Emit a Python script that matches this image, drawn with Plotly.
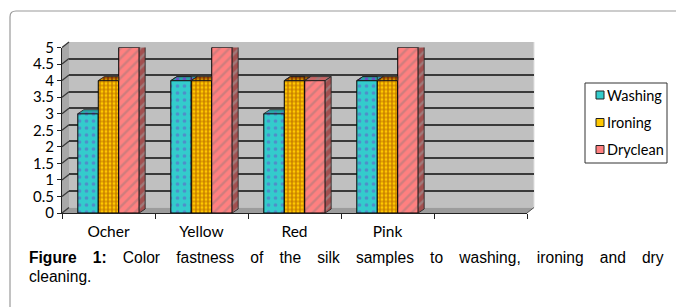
import plotly.graph_objects as go

# ---------------- data ----------------
categories = ["Ocher", "Yellow", "Red", "Pink"]
slot_labels = ["Ocher", "Yellow", "Red", "Pink", ""]
series_names = ["Washing", "Ironing", "Dryclean"]
washing = [3, 4, 3, 4]
ironing = [4, 4, 4, 4]
dryclean = [5, 5, 4, 5]
y_tick_values = [0, 0.5, 1, 1.5, 2, 2.5, 3, 3.5, 4, 4.5, 5]
y_tick_labels = ["0", "0.5", "1", "1.5", "2", "2.5", "3", "3.5", "4", "4.5", "5"]
caption_title = "Figure 1:"
caption_line1 = ["Color", "fastness", "of", "the", "silk", "samples", "to",
                 "washing,", "ironing", "and", "dry"]
caption_line2 = "cleaning."

series_values = [washing, ironing, dryclean]

# ---------------- layout geometry (pixels of the 684x307 view) ----------------
VIEW_W, VIEW_H = 684, 307
PAGE_MARGIN = 8                      # default body margin of the html page
W, H = VIEW_W - PAGE_MARGIN, VIEW_H - PAGE_MARGIN


def px(x):
    return (x - PAGE_MARGIN) / W


def py(y):
    return 1 - (y - PAGE_MARGIN) / H


FX0, FX1, FY0, FY1 = 62, 527, 213, 47.5      # front frame of the 3D box
DXP, DYP = 7, 5.5                            # depth offset of the back wall
BX0, BX1, BY0, BY1 = FX0 + DXP, FX1 + DXP, FY0 - DYP, FY1 - DYP
n_slots = len(slot_labels)
y_max = 5

styles = [
    dict(front="#33CCCC", top="#2AA5A5", side="#1E8080", shape=".", fg="#6A50C8", size=7, sol=0.22),
    dict(front="#FFC800", top="#C48F00", side="#9A6E00", shape="+", fg="#7E1E00", size=4, sol=0.5),
    dict(front="#FF8080", top="#C86464", side="#A24F4F", shape="/", fg="#A07A7A", size=7, sol=0.35),
]
bar_w = 0.22
offsets = [-0.33, -0.11, 0.11]
ddx = 6 / ((FX1 - FX0) / n_slots)   # bar depth in x data units
ddy = 4 / ((FY0 - FY1) / y_max)     # bar depth in y data units

LABEL_FONT = "Lato, Carlito, Calibri, 'Open Sans', sans-serif"
CAP_FONT = "'Liberation Sans', Arial, Helvetica, sans-serif"


def clip_half(poly, idx, val, keep_less):
    out = []
    n = len(poly)
    for i in range(n):
        cur, prev = poly[i], poly[i - 1]
        cin = cur[idx] <= val if keep_less else cur[idx] >= val
        pin = prev[idx] <= val if keep_less else prev[idx] >= val
        if cin != pin:
            t = (val - prev[idx]) / (cur[idx] - prev[idx])
            out.append((prev[0] + t * (cur[0] - prev[0]), prev[1] + t * (cur[1] - prev[1])))
        if cin:
            out.append(cur)
    return out


def area(poly):
    s = 0
    for i in range(len(poly)):
        x1, y1 = poly[i - 1]
        x2, y2 = poly[i]
        s += x1 * y2 - x2 * y1
    return abs(s) / 2


fig = go.Figure()

# empty trace that only registers the back-wall subplot (gridlines)
fig.add_trace(go.Scatter(x=[], y=[], xaxis="x", yaxis="y", showlegend=False, hoverinfo="skip"))

# front faces of the bars (real bar traces)
for k, (name, vals) in enumerate(zip(series_names, series_values)):
    st = styles[k]
    fig.add_trace(go.Bar(
        x=list(range(len(categories))), y=vals, name=name,
        width=bar_w, offset=offsets[k],
        marker=dict(color=st["front"], line=dict(color="black", width=1),
                    pattern=dict(shape=st["shape"], fgcolor=st["fg"], size=st["size"],
                                 solidity=st["sol"], fillmode="overlay")),
        xaxis="x2", yaxis="y2", showlegend=False, hoverinfo="skip"))

# 3D top and side faces of the bars, clipped against the next bar's front face
for k, vals in enumerate(series_values):
    st = styles[k]
    nxt = series_values[k + 1] if k + 1 < len(series_values) else None
    faces = {"top": ([], []), "side": ([], [])}
    for c, v in enumerate(vals):
        x0 = c + offsets[k]
        x1 = x0 + bar_w
        top = [(x0, v), (x1, v), (x1 + ddx, v + ddy), (x0 + ddx, v + ddy)]
        side = [(x1, 0), (x1 + ddx, ddy), (x1 + ddx, v + ddy), (x1, v)]
        for key, face in (("top", top), ("side", side)):
            if nxt is None:
                parts = [face]
            else:
                parts = [clip_half(face, 0, x1, True), clip_half(face, 1, nxt[c], False)]
            for p in parts:
                if len(p) >= 3 and area(p) > 1e-6:
                    faces[key][0].extend([q[0] for q in p] + [p[0][0], None])
                    faces[key][1].extend([q[1] for q in p] + [p[0][1], None])
    for key in ("top", "side"):
        fig.add_trace(go.Scatter(
            x=faces[key][0], y=faces[key][1], mode="lines", fill="toself",
            fillcolor=st[key], line=dict(color="#202020", width=0.8),
            fillpattern=dict(shape=st["shape"], fgcolor=st["fg"], size=st["size"],
                             solidity=st["sol"], bgcolor=st[key], fillmode="replace"),
            xaxis="x2", yaxis="y2", showlegend=False, hoverinfo="skip"))

shapes = []
# outer figure frame with rounded corner
fx, fy, r = 10, 11, 6
shapes.append(dict(type="path", xref="paper", yref="paper", layer="below",
                   path=f"M {px(fx)},{py(VIEW_H + 10)} L {px(fx)},{py(fy + r)} "
                        f"Q {px(fx)},{py(fy)} {px(fx + r)},{py(fy)} L {px(VIEW_W + 10)},{py(fy)}",
                   line=dict(color="#9A9A9A", width=1.2)))
# back wall
shapes.append(dict(type="rect", xref="paper", yref="paper", layer="below",
                   x0=px(BX0), x1=px(BX1), y0=py(BY0), y1=py(BY1),
                   fillcolor="#C0C0C0", line=dict(width=0)))
# left wall
shapes.append(dict(type="path", xref="paper", yref="paper", layer="below",
                   path=f"M {px(FX0)},{py(FY0)} L {px(FX0)},{py(FY1)} L {px(BX0)},{py(BY1)} "
                        f"L {px(BX0)},{py(BY0)} Z",
                   fillcolor="#A8A8A8", line=dict(width=0)))
# floor
shapes.append(dict(type="path", xref="paper", yref="paper", layer="below",
                   path=f"M {px(FX0)},{py(FY0)} L {px(BX0)},{py(BY0)} L {px(BX1)},{py(BY0)} "
                        f"L {px(FX1)},{py(FY0)} Z",
                   fillcolor="#9C9C9C", line=dict(width=0)))
# gridline segments on the left wall
for v in y_tick_values:
    yf = FY0 - (FY0 - FY1) * v / y_max
    yb = BY0 - (BY0 - BY1) * v / y_max
    shapes.append(dict(type="line", xref="paper", yref="paper", layer="below",
                       x0=px(FX0), y0=py(yf), x1=px(BX0), y1=py(yb),
                       line=dict(color="#3A3A3A", width=1.3)))
# floor right edge and back wall right edge
shapes.append(dict(type="line", xref="paper", yref="paper", layer="above",
                   x0=px(FX1), y0=py(FY0), x1=px(BX1), y1=py(BY0),
                   line=dict(color="#555555", width=1)))
shapes.append(dict(type="line", xref="paper", yref="paper", layer="below",
                   x0=px(BX1), y0=py(BY0), x1=px(BX1), y1=py(BY1),
                   line=dict(color="#E0E0E0", width=1)))

# legend (box + swatches + labels)
LX0, LX1, LY0, LY1 = 585, 667, 83, 163
shapes.append(dict(type="rect", xref="paper", yref="paper", layer="above",
                   x0=px(LX0), x1=px(LX1), y0=py(LY1), y1=py(LY0),
                   fillcolor="white", line=dict(color="#333333", width=1)))
legend_y = [95, 122.5, 149.5]
annotations = []
for k, name in enumerate(series_names):
    st = styles[k]
    yc = legend_y[k]
    shapes.append(dict(type="rect", xref="paper", yref="paper", layer="above",
                       x0=px(596), x1=px(604), y0=py(yc + 4), y1=py(yc - 4),
                       fillcolor=st["front"], line=dict(color="#222222", width=1)))
    annotations.append(dict(x=px(604.5), y=py(yc), xref="paper", yref="paper",
                            xanchor="left", yanchor="middle", showarrow=False,
                            text=name, font=dict(family=LABEL_FONT, size=14.5, color="black")))

# caption (justified first line, approximated with extra non-breaking spaces)
gap = " " + "\u00a0" * 2 + "\u2009"
line1 = "<b>" + caption_title.replace(" ", gap) + "</b>" + gap + gap.join(caption_line1)
annotations.append(dict(x=px(27), y=py(257), xref="paper", yref="paper",
                        xanchor="left", yanchor="middle", showarrow=False,
                        text=line1, font=dict(family=CAP_FONT, size=15.6, color="black")))
annotations.append(dict(x=px(27), y=py(276.5), xref="paper", yref="paper",
                        xanchor="left", yanchor="middle", showarrow=False,
                        text=caption_line2, font=dict(family=CAP_FONT, size=15.6, color="black")))

fig.update_layout(
    template="none",
    width=W, height=H, autosize=False,
    margin=dict(l=0, r=0, t=0, b=0, pad=0),
    paper_bgcolor="white", plot_bgcolor="rgba(0,0,0,0)",
    barmode="overlay", showlegend=False,
    xaxis=dict(domain=[px(BX0), px(BX1)], range=[-0.5, n_slots - 0.5], anchor="y",
               showgrid=False, zeroline=False, showline=False, showticklabels=False,
               ticks="", automargin=False, fixedrange=True),
    yaxis=dict(domain=[py(BY0), py(BY1)], range=[0, y_max], anchor="x",
               tickmode="array", tickvals=y_tick_values, showticklabels=False, ticks="",
               showgrid=True, gridcolor="#3A3A3A", gridwidth=1.5,
               zeroline=False, showline=False, automargin=False, fixedrange=True),
    xaxis2=dict(domain=[px(FX0), px(FX1)], range=[-0.5, n_slots - 0.5], anchor="y2",
                tickmode="array", tickvals=list(range(n_slots)), ticktext=slot_labels,
                ticks="", ticklabelstandoff=4, showgrid=False, zeroline=False,
                showline=True, linecolor="#222222", linewidth=1,
                minor=dict(tickmode="array", tickvals=[i - 0.5 for i in range(n_slots + 1)],
                           ticks="outside", ticklen=5, tickcolor="#222222", showgrid=False),
                tickfont=dict(family=LABEL_FONT, size=15.5, color="black"),
                automargin=False, fixedrange=True),
    yaxis2=dict(domain=[py(FY0), py(FY1)], range=[0, y_max], anchor="x2",
                tickmode="array", tickvals=y_tick_values, ticktext=y_tick_labels,
                ticks="outside", ticklen=4, tickcolor="#222222",
                showgrid=False, zeroline=False, showline=True, linecolor="#222222", linewidth=1,
                tickfont=dict(family=LABEL_FONT, size=15, color="black"),
                automargin=False, fixedrange=True),
    shapes=shapes, annotations=annotations,
)

fig.write_html("out.html")
